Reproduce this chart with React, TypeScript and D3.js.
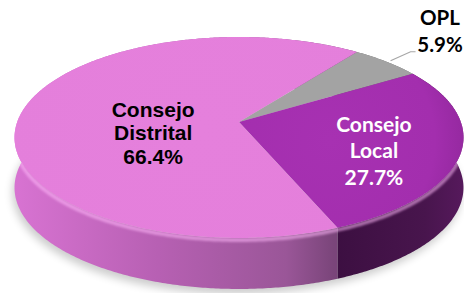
import React, { useEffect, useRef } from 'react';
import * as d3 from 'd3';

// data
const labels = ['OPL', 'Consejo Local', 'Consejo Distrital'];
const values = [5.9, 27.7, 66.4];

const W = 464;
const H = 293;

const App = () => {
    const svgRef = useRef<SVGSVGElement | null>(null);

    useEffect(() => {
        const svg = d3.select(svgRef.current);
        svg.selectAll('*').remove();

        // 3d pie geometry (perspective tilt)
        const cx = 239;
        const cy = 122;
        const rx = 221.8;
        const ry = 98.1;
        const persp = 0.154;
        const depth = 50;

        const proj = (a: number, r: number, z: number): [number, number] => {
            const u = r * Math.sin(a);
            const v = -r * Math.cos(a);
            const k = 1 / (1 - persp * v);
            return [cx + rx * u * k, cy + ry * v * k + depth * z * (1 + 0.02 * v)];
        };

        const arcPts = (a0: number, a1: number, r: number, z: number) => {
            const n = Math.max(2, Math.ceil(Math.abs(a1 - a0) / 0.01));
            return d3.range(n + 1).map(i => proj(a0 + (a1 - a0) * i / n, r, z));
        };

        const pie = d3.pie<number>()
            .sort(null)
            .startAngle(0.64)
            .endAngle(0.64 + Math.PI * 2);
        const arcs = pie(values);

        const line = d3.line();
        const defs = svg.append('defs');

        defs.append('filter').attr('id', 'blur')
            .attr('x', '-20%').attr('y', '-20%').attr('width', '140%').attr('height', '140%')
            .append('feGaussianBlur').attr('stdDeviation', 4);

        defs.append('filter').attr('id', 'soft')
            .attr('x', '-10%').attr('y', '-10%').attr('width', '120%').attr('height', '120%')
            .append('feGaussianBlur').attr('stdDeviation', 1.2);

        // side gradients
        const g2 = defs.append('linearGradient').attr('id', 'side2')
            .attr('gradientUnits', 'userSpaceOnUse')
            .attr('x1', 14).attr('x2', 334).attr('y1', 0).attr('y2', 0);
        g2.append('stop').attr('offset', 0).attr('stop-color', '#d873d2');
        g2.append('stop').attr('offset', 0.45).attr('stop-color', '#b760b3');
        g2.append('stop').attr('offset', 0.85).attr('stop-color', '#9a5698');
        g2.append('stop').attr('offset', 1).attr('stop-color', '#7a457a');

        const g1 = defs.append('linearGradient').attr('id', 'side1')
            .attr('gradientUnits', 'userSpaceOnUse')
            .attr('x1', 334).attr('x2', 464).attr('y1', 0).attr('y2', 0);
        g1.append('stop').attr('offset', 0).attr('stop-color', '#3c0f41');
        g1.append('stop').attr('offset', 0.7).attr('stop-color', '#48154d');
        g1.append('stop').attr('offset', 1).attr('stop-color', '#56195c');

        const g0 = defs.append('linearGradient').attr('id', 'side0');
        g0.append('stop').attr('offset', 0).attr('stop-color', '#6e6e6e');
        g0.append('stop').attr('offset', 1).attr('stop-color', '#6e6e6e');

        const rg1 = defs.append('radialGradient').attr('id', 'top1')
            .attr('gradientUnits', 'userSpaceOnUse')
            .attr('cx', 330).attr('cy', 140).attr('r', 150);
        rg1.append('stop').attr('offset', 0).attr('stop-color', '#a731b2');
        rg1.append('stop').attr('offset', 0.7).attr('stop-color', '#a32eae');
        rg1.append('stop').attr('offset', 1).attr('stop-color', '#8e2699');

        const rg2 = defs.append('radialGradient').attr('id', 'top2')
            .attr('gradientUnits', 'userSpaceOnUse')
            .attr('cx', 200).attr('cy', 130).attr('r', 240);
        rg2.append('stop').attr('offset', 0).attr('stop-color', '#e580dc');
        rg2.append('stop').attr('offset', 0.85).attr('stop-color', '#e47fdb');
        rg2.append('stop').attr('offset', 1).attr('stop-color', '#ea8ee2');

        const topFill = ['#a3a3a3', 'url(#top1)', 'url(#top2)'];

        // ground shadow
        const a0 = arcs[0].startAngle;
        const shadowPts = arcPts(a0, a0 + Math.PI * 2, 1.0, 1.0);
        svg.append('path')
            .attr('d', line(shadowPts.map(p => [p[0] - 2, p[1] + 5])) + 'Z')
            .attr('fill', '#000')
            .attr('opacity', 0.2)
            .attr('filter', 'url(#blur)');

        // sides
        const clip = defs.append('clipPath').attr('id', 'sideClip');
        arcs.forEach((d, i) => {
            const top = arcPts(d.startAngle, d.endAngle, 1, 0);
            const bottom = arcPts(d.endAngle, d.startAngle, 1, 1);
            const dd = line([...top, ...bottom]) + 'Z';
            svg.append('path').attr('d', dd).attr('fill', `url(#side${i})`);
            clip.append('path').attr('d', dd);
        });

        // bevel highlight at top of the side
        const rim = arcPts(Math.PI / 2 - 0.15, Math.PI * 1.5 + 0.15, 1, 0.04);
        svg.append('g').attr('clip-path', 'url(#sideClip)')
            .append('path')
            .attr('d', line(rim))
            .attr('fill', 'none')
            .attr('stroke', '#ffb8fa')
            .attr('stroke-opacity', 0.55)
            .attr('stroke-width', 4)
            .attr('filter', 'url(#soft)');

        // tops
        arcs.forEach((d, i) => {
            const pts = [proj(0, 0, 0), ...arcPts(d.startAngle, d.endAngle, 1, 0)];
            svg.append('path')
                .attr('d', line(pts) + 'Z')
                .attr('fill', topFill[i]);
        });

        // labels
        const mid = (d: d3.PieArcDatum<number>) => (d.startAngle + d.endAngle) / 2;

        const labelText = (x: number, y: number, lines: string[], color: string,
            font: string, size: number, gap: number) => {
            const t = svg.append('text')
                .attr('x', x).attr('y', y)
                .attr('text-anchor', 'middle')
                .style('font-family', font)
                .style('font-weight', 700)
                .style('font-size', size + 'px')
                .attr('fill', color);
            lines.forEach((s, j) => {
                t.append('tspan').attr('x', x).attr('dy', j === 0 ? 0 : gap).text(s);
            });
        };

        const fmt = (v: number) => v.toFixed(1) + '%';
        const arial = "'Liberation Sans', Arial, sans-serif";
        const calibri = "Lato, 'Open Sans', sans-serif";

        // Consejo Distrital
        const pD = proj(mid(arcs[2]), 0.4, 0);
        labelText(pD[0] + 1.5, pD[1] - 0.5, ['Consejo', 'Distrital', fmt(values[2])], '#000', arial, 21, 23.8);

        // Consejo Local
        const pL = proj(mid(arcs[1]), 0.6, 0);
        labelText(pL[0] + 4.5, pL[1] - 8.3, ['Consejo', 'Local', fmt(values[1])], '#fff', calibri, 21, 26.2);

        // OPL, outside with leader line
        const pO = proj(mid(arcs[0]), 1, 0);
        svg.append('path')
            .attr('d', line([[pO[0] + 4, pO[1] - 1], [pO[0] + 24, pO[1] - 10], [pO[0] + 29, pO[1] - 10]]))
            .attr('fill', 'none')
            .attr('stroke', '#a6a6a6')
            .attr('stroke-width', 1.2);
        labelText(440, 25, [labels[0], fmt(values[0])], '#000', calibri, 20.5, 27);
    }, []);

    return (
        <svg ref={svgRef} width={W} height={H}
            style={{ position: 'absolute', left: 0, top: 0, background: '#fff' }} />
    );
};

export default App;
